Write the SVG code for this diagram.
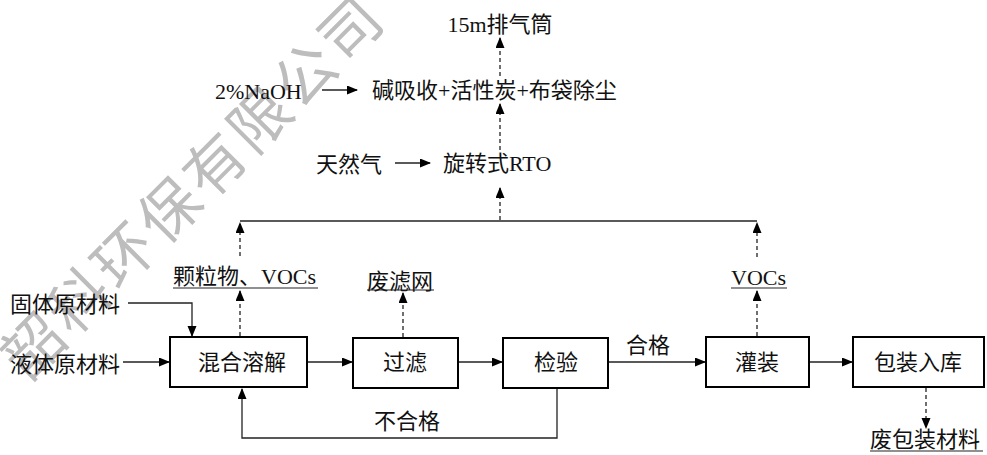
<svg xmlns="http://www.w3.org/2000/svg" width="987" height="455" viewBox="0 0 987 455">
<style>
.t{font-family:"Liberation Serif","Noto Sans CJK SC",serif;font-size:22px;fill:#111;dominant-baseline:central}
.c{text-anchor:middle}
.box{fill:#fff;stroke:#000;stroke-width:2}
.ln{fill:none;stroke:#222;stroke-width:1.3}
.ds{fill:none;stroke:#222;stroke-width:1.3;stroke-dasharray:4 3}
.ul{stroke:#222;stroke-width:1.2}
.wm{font-family:"Noto Sans CJK SC",sans-serif;font-size:60px;fill:#bdbdbd;text-anchor:middle;dominant-baseline:central;letter-spacing:4px}
</style>
<defs>
<marker id="ah" markerUnits="userSpaceOnUse" markerWidth="11" markerHeight="10" refX="10" refY="4.5" orient="auto">
<path d="M0,0 L11,4.5 L0,9 z" fill="#000"/>
</marker>
</defs>
<rect width="987" height="455" fill="#fff"/>
<g id="watermark">
<text class="wm" transform="translate(190,183) rotate(-45)">韶科环保有限公司</text>
</g>
<g id="connectors">
<polyline class="ln" points="128,303 192,303 192,336" marker-end="url(#ah)"/>
<line class="ln" x1="123" y1="362" x2="169" y2="362" marker-end="url(#ah)"/>
<line class="ln" x1="307" y1="362" x2="352" y2="362" marker-end="url(#ah)"/>
<line class="ln" x1="458" y1="362" x2="502" y2="362" marker-end="url(#ah)"/>
<line class="ln" x1="608" y1="362" x2="705" y2="362" marker-end="url(#ah)"/>
<line class="ln" x1="809" y1="362" x2="852" y2="362" marker-end="url(#ah)"/>
<polyline class="ln" points="557,388 557,438 242,438 242,389" marker-end="url(#ah)"/>
<line class="ln" x1="240" y1="221" x2="757" y2="221"/>
<line class="ds" x1="240" y1="336" x2="240" y2="291" marker-end="url(#ah)"/>
<line class="ds" x1="240" y1="256" x2="240" y2="223" marker-end="url(#ah)"/>
<line class="ds" x1="403" y1="337" x2="403" y2="293" marker-end="url(#ah)"/>
<line class="ds" x1="757" y1="336" x2="757" y2="291" marker-end="url(#ah)"/>
<line class="ds" x1="757" y1="257" x2="757" y2="223" marker-end="url(#ah)"/>
<line class="ds" x1="500" y1="220" x2="500" y2="188" marker-end="url(#ah)"/>
<line class="ds" x1="500" y1="150" x2="500" y2="104" marker-end="url(#ah)"/>
<line class="ds" x1="500" y1="76" x2="500" y2="38" marker-end="url(#ah)"/>
<line class="ds" x1="926" y1="388" x2="926" y2="428" marker-end="url(#ah)"/>
<line class="ln" x1="395" y1="163" x2="430" y2="163" marker-end="url(#ah)"/>
<line class="ln" x1="322" y1="90" x2="357" y2="90" marker-end="url(#ah)"/>
</g>
<g id="n-stack"><text class="t c" x="500" y="24">15m排气筒</text></g>
<g id="n-naoh"><text class="t" x="215" y="91">2%NaOH</text></g>
<g id="n-treat"><text class="t" x="372" y="90">碱吸收+活性炭+布袋除尘</text></g>
<g id="n-gas"><text class="t" x="316" y="164">天然气</text></g>
<g id="n-rto"><text class="t" x="443" y="163">旋转式RTO</text></g>
<g id="n-solid"><text class="t" x="10" y="304">固体原材料</text></g>
<g id="n-liquid"><text class="t" x="10" y="364">液体原材料</text></g>
<g id="n-emis1"><text class="t" x="173" y="276">颗粒物、VOCs</text><line class="ul" x1="173" y1="288" x2="318" y2="288"/></g>
<g id="n-waste1"><text class="t" x="367" y="281">废滤网</text><line class="ul" x1="367" y1="290" x2="434" y2="290"/></g>
<g id="n-emis2"><text class="t" x="731" y="277">VOCs</text><line class="ul" x1="731" y1="288" x2="787" y2="288"/></g>
<g id="n-waste2"><text class="t" x="870" y="439">废包装材料</text><line class="ul" x1="870" y1="451" x2="983" y2="451"/></g>
<g id="n-mix"><rect class="box" x="170" y="337" width="137" height="50"/><text class="t c" x="242" y="362">混合溶解</text></g>
<g id="n-filter"><rect class="box" x="353" y="338" width="105" height="50"/><text class="t c" x="405" y="362">过滤</text></g>
<g id="n-check"><rect class="box" x="503" y="338" width="105" height="50"/><text class="t c" x="556" y="362">检验</text></g>
<g id="n-fill"><rect class="box" x="706" y="337" width="103" height="50"/><text class="t c" x="757" y="362">灌装</text></g>
<g id="n-pack"><rect class="box" x="853" y="337" width="131" height="50"/><text class="t c" x="918" y="362">包装入库</text></g>
<g id="labels">
<text class="t c" x="648" y="345">合格</text>
<text class="t c" x="407" y="421">不合格</text>
</g>
</svg>
